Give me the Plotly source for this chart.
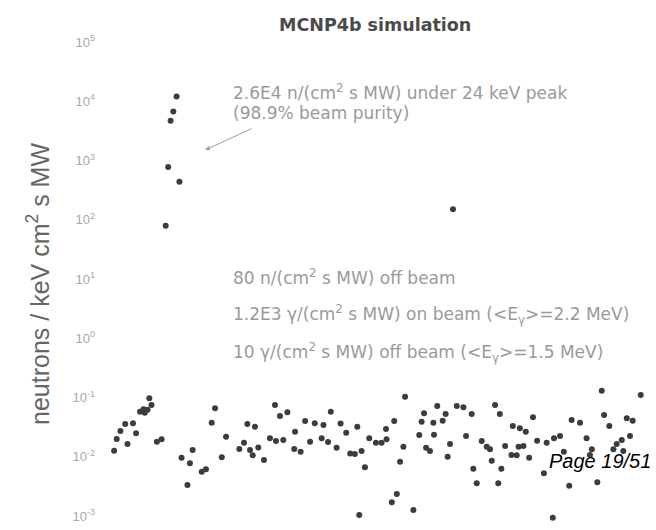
import plotly.graph_objects as go

# Simulated neutron spectrum of the filtered beam (MCNP4b), energy in keV
energy_keV = [
    13.2, 13.6, 14.2, 15.0, 15.4, 16.4, 17.0, 17.8, 18.5, 18.8,
    19.4, 19.8, 20.3, 21.6, 22.8, 23.9, 24.6, 25.3, 26.1, 27.1,
    28.0, 28.7, 30.7, 31.6, 32.6, 36.2, 38.0, 40.6, 42.2, 45.6,
    47.9, 55.8, 58.9, 61.2, 63.1, 65.1, 66.8, 69.4, 74.1, 79.4,
    84.1, 85.1, 89.1, 92.6, 97.0, 105, 106, 113, 119, 126,
    133, 144, 147, 155, 160, 171, 179, 191, 200, 211,
    217, 222, 228, 237, 249, 269, 287, 302, 304, 323,
    332, 342, 355, 369, 376, 414, 443, 455, 468, 479,
    501, 521, 525, 545, 580, 600, 614, 631, 653, 682,
    736, 759, 810, 825, 858, 909, 963, 1000, 1020, 1060,
    1100, 1120, 1140, 1190, 1280, 1300, 1360, 1390, 1410, 1470,
    1510, 1570, 1640, 1720, 1860, 1920, 2060, 2090, 2240, 2340,
    2490, 2560, 2820, 3040, 3160, 3230, 3440, 3620, 3720, 3950,
    4140, 4300, 4560, 4640, 4830, 5010, 5170, 5670,
]

# neutrons / (keV cm^2 s MW)
flux = [
    0.0126, 0.0200, 0.0272, 0.0357, 0.0164, 0.0367, 0.0249, 0.0575, 0.0632, 0.0554,
    0.0622, 0.0969, 0.0747, 0.0180, 0.0197, 79, 780, 4700, 6700, 12000,
    440, 0.00964, 0.00334, 0.00775, 0.0130, 0.0056, 0.00614, 0.0376, 0.0658, 0.0098,
    0.0218, 0.0135, 0.0173, 0.0357, 0.0130, 0.0106, 0.0321, 0.0144, 0.00881, 0.0205,
    0.0747, 0.0185, 0.0488, 0.0192, 0.0562, 0.0135, 0.0265, 0.0122, 0.0401, 0.0180,
    0.0367, 0.0205, 0.0344, 0.0178, 0.0575, 0.0142, 0.0365, 0.0255, 0.0114, 0.0111,
    0.0321, 0.00104, 0.0125, 0.00664, 0.0205, 0.0173, 0.0172, 0.0294, 0.0197, 0.0017,
    0.0401, 0.00235, 0.00825, 0.0148, 0.103, 0.00126, 0.0233, 0.0391, 0.0541, 0.0142,
    0.0125, 0.0376, 0.0235, 0.0719, 0.0406, 0.0527, 0.0100, 0.0164, 150, 0.0719,
    0.0683, 0.0224, 0.0527, 0.00628, 0.00356, 0.0185, 0.0148, 0.0134, 0.00858, 0.0747,
    0.00356, 0.0527, 0.00628, 0.0152, 0.0107, 0.0330, 0.0106, 0.0148, 0.0302, 0.0152,
    0.0265, 0.00964, 0.0463, 0.0187, 0.00526, 0.0173, 0.000935, 0.0205, 0.0224, 0.0122,
    0.00324, 0.0417, 0.0376, 0.0205, 0.0107, 0.0134, 0.00371, 0.130, 0.0507, 0.0330,
    0.0134, 0.0164, 0.0192, 0.0125, 0.0446, 0.0224, 0.0406, 0.110,
]

decades = [-3, -2, -1, 0, 1, 2, 3, 4, 5]
tick_vals = [10.0 ** d for d in decades]
tick_text = ["10<sup>%d</sup>" % d for d in decades]

notes = [
    ("2.6E4 n/(cm<sup>2</sup> s MW) under 24 keV peak", 92),
    ("(98.9% beam purity)", 113),
    ("80 n/(cm<sup>2</sup> s MW) off beam", 277),
    ("1.2E3 γ/(cm<sup>2</sup> s MW) on beam (&lt;E<sub>γ</sub>&gt;=2.2 MeV)", 315),
    ("10 γ/(cm<sup>2</sup> s MW) off beam (&lt;E<sub>γ</sub>&gt;=1.5 MeV)", 352),
]

W, H = 656, 530
ML, MR, MT, MB = 100, 6, 33, 0
PW, PH = W - ML - MR, H - MT - MB


def px_x(px):
    return (px - ML) / PW


def px_y(py):
    return (H - MB - py) / PH


fig = go.Figure()
fig.add_trace(go.Scatter(
    x=energy_keV, y=flux, mode="markers",
    marker=dict(size=6, color="#3c3c3c", line=dict(width=0)),
    showlegend=False,
))

ann = []
for text, py in notes:
    ann.append(dict(text=text, x=px_x(231), y=px_y(py), xref="paper", yref="paper",
                    xanchor="left", yanchor="middle", showarrow=False,
                    font=dict(family="DejaVu Sans", size=17, color="#9a9a9a")))

# arrow pointing at the 24 keV peak
ann.append(dict(text="", x=px_x(205), y=px_y(150), xref="paper", yref="paper",
                ax=48, ay=-22, showarrow=True, arrowhead=2, arrowsize=1,
                arrowwidth=1, arrowcolor="#a0a0a0"))

# title
ann.append(dict(text="<b>MCNP4b simulation</b>", x=px_x(375), y=px_y(25),
                xref="paper", yref="paper", xanchor="center", yanchor="middle",
                showarrow=False,
                font=dict(family="DejaVu Sans", size=17.5, color="#4a4a4a")))

# y axis title
ann.append(dict(text="neutrons / keV cm<sup>2</sup> s MW", x=px_x(38), y=px_y(284),
                xref="paper", yref="paper", xanchor="center", yanchor="middle",
                textangle=-90, showarrow=False,
                font=dict(family="Liberation Sans", size=25, color="#666666")))

# page footer
ann.append(dict(text="<i>Page 19/51</i>", x=px_x(653), y=px_y(461),
                xref="paper", yref="paper", xanchor="right", yanchor="middle",
                showarrow=False,
                font=dict(family="Liberation Sans", size=20, color="#000000")))

fig.update_layout(
    width=W, height=H,
    margin=dict(l=ML, r=MR, t=MT, b=MB),
    paper_bgcolor="white", plot_bgcolor="white",
    annotations=ann,
    xaxis=dict(type="log", range=[1.05, 3.8], showgrid=False, zeroline=False,
               showline=False, showticklabels=False, ticks=""),
    yaxis=dict(type="log", range=[-3.236, 5.152], tickvals=tick_vals,
               ticktext=tick_text, showgrid=False, zeroline=False, showline=False,
               ticks="", ticklabelstandoff=4,
               tickfont=dict(family="Liberation Sans", size=13, color="#a8a8a8")),
)

fig.write_html("out.html")
